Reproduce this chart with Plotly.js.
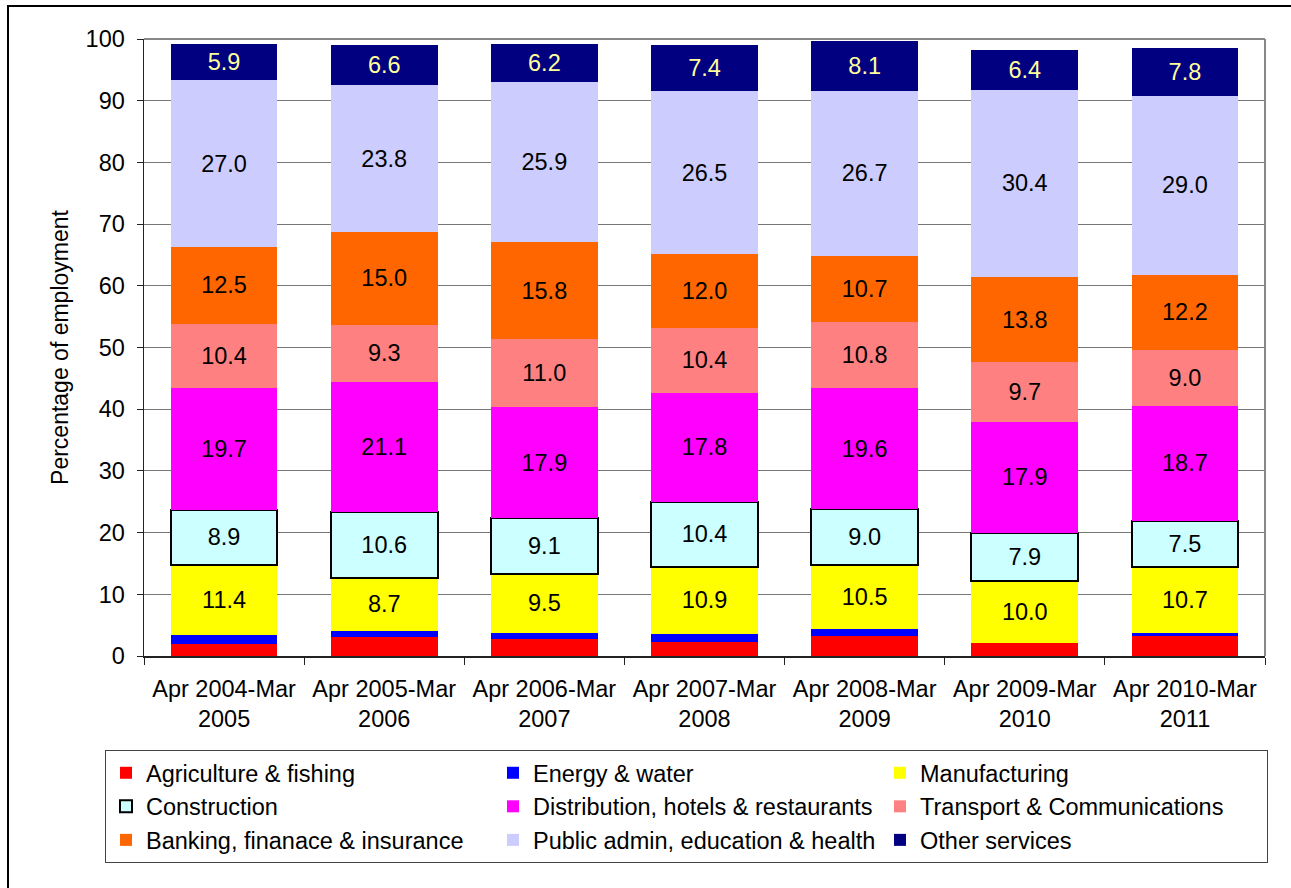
<!DOCTYPE html>
<html>
<head>
<meta charset="utf-8">
<script src="https://cdn.plot.ly/plotly-3.0.1.min.js"></script>
<style>html,body{margin:0;padding:0;overflow:hidden;background:#fff}</style>
</head>
<body>
<div id="chart" style="width:1291px;height:888px;"></div>
<script>
const categories = ["Apr 2004-Mar<br>2005","Apr 2005-Mar<br>2006","Apr 2006-Mar<br>2007","Apr 2007-Mar<br>2008","Apr 2008-Mar<br>2009","Apr 2009-Mar<br>2010","Apr 2010-Mar<br>2011"];
const agriculture   = [1.9, 3.0, 2.7, 2.3, 3.2, 2.1, 3.2];
const energy        = [1.5, 1.0, 1.1, 1.3, 1.1, 0.0, 0.5];
const manufacturing = [11.4, 8.7, 9.5, 10.9, 10.5, 10.0, 10.7];
const construction  = [8.9, 10.6, 9.1, 10.4, 9.0, 7.9, 7.5];
const distribution  = [19.7, 21.1, 17.9, 17.8, 19.6, 17.9, 18.7];
const transport     = [10.4, 9.3, 11.0, 10.4, 10.8, 9.7, 9.0];
const banking       = [12.5, 15.0, 15.8, 12.0, 10.7, 13.8, 12.2];
const publicAdmin   = [27.0, 23.8, 25.9, 26.5, 26.7, 30.4, 29.0];
const otherServices = [5.9, 6.6, 6.2, 7.4, 8.1, 6.4, 7.8];
const yTicks = [0,10,20,30,40,50,60,70,80,90,100];

const FONT = "Liberation Sans, Arial, sans-serif";
const FS = 23.5;

function mk(name, vals, color, opts) {
  opts = opts || {};
  return {
    type: 'bar', name: name, x: categories, y: vals,
    marker: {color: color, line: opts.line || {width: 0}},
    texttemplate: opts.label === false ? '' : '%{y:.1f}',
    textposition: opts.label === false ? 'none' : 'inside',
    insidetextanchor: 'middle',
    textangle: 0,
    constraintext: 'none',
    textfont: {family: FONT, size: FS, color: opts.textColor || '#000'},
    hoverinfo: 'name+y'
  };
}

const traces = [
  mk('Agriculture & fishing', agriculture, '#FF0000', {label: false}),
  mk('Energy & water', energy, '#0000FF', {label: false}),
  mk('Manufacturing', manufacturing, '#FFFF00'),
  mk('Construction', construction, '#CCFFFF', {line: {color: '#000', width: 2}}),
  mk('Distribution, hotels & restaurants', distribution, '#FF00FF'),
  mk('Transport & Communications', transport, '#FF8080'),
  mk('Banking, finanace & insurance', banking, '#FF6600'),
  mk('Public admin, education & health', publicAdmin, '#CCCCFF'),
  mk('Other services', otherServices, '#000080', {textColor: '#FFFF99'})
];

const L = 144, R = 1265, T = 39, B = 656;
const pw = R - L, ph = B - T;
const px = v => (v - L) / pw;
const py = v => (B - v) / ph;

const layout = {
  width: 1291, height: 888,
  margin: {l: L, r: 1291 - R, t: T, b: 888 - B},
  barmode: 'stack',
  bargap: 0.333,
  paper_bgcolor: '#fff', plot_bgcolor: '#fff',
  font: {family: FONT, size: FS, color: '#000'},
  showlegend: true,
  xaxis: {
    type: 'category',
    showline: true, linecolor: '#222', linewidth: 1.5,
    ticks: 'outside', tickson: 'boundaries', ticklen: 7, tickcolor: '#222', tickwidth: 1,
    ticklabelstandoff: 11,
    tickfont: {family: FONT, size: FS, color: '#000'},
    showgrid: false, zeroline: false, automargin: false
  },
  yaxis: {
    range: [0, 100], tickvals: yTicks, ticktext: yTicks.map(String),
    showline: true, linecolor: '#222', linewidth: 1.5,
    ticks: 'outside', ticklen: 6, tickcolor: '#222', tickwidth: 1,
    ticklabelstandoff: 7,
    tickfont: {family: FONT, size: FS, color: '#000'},
    showgrid: true, gridcolor: '#777', gridwidth: 1,
    zeroline: false, automargin: false,
    title: {text: 'Percentage of employment', font: {family: FONT, size: 23, color: '#000'}, standoff: 10}
  },
  legend: {
    orientation: 'h',
    x: px(105), y: py(750), xanchor: 'left', yanchor: 'top',
    entrywidth: 342, entrywidthmode: 'pixels',
    bordercolor: '#444', borderwidth: 1, bgcolor: '#fff',
    font: {family: FONT, size: FS, color: '#000'},
    traceorder: 'normal'
  },
  shapes: [
    {type: 'line', xref: 'paper', yref: 'paper', x0: 0, x1: 1, y0: 1, y1: 1, line: {color: '#888', width: 2}},
    {type: 'line', xref: 'paper', yref: 'paper', x0: 1, x1: 1, y0: 0, y1: 1, line: {color: '#888', width: 2}},
    {type: 'rect', xref: 'paper', yref: 'paper', x0: px(8), x1: px(1400), y0: py(6), y1: py(1000), line: {color: '#000', width: 2}, fillcolor: 'rgba(0,0,0,0)', layer: 'above'}
  ]
};

Plotly.newPlot('chart', traces, layout, {displayModeBar: false, staticPlot: true});
</script>
</body>
</html>
